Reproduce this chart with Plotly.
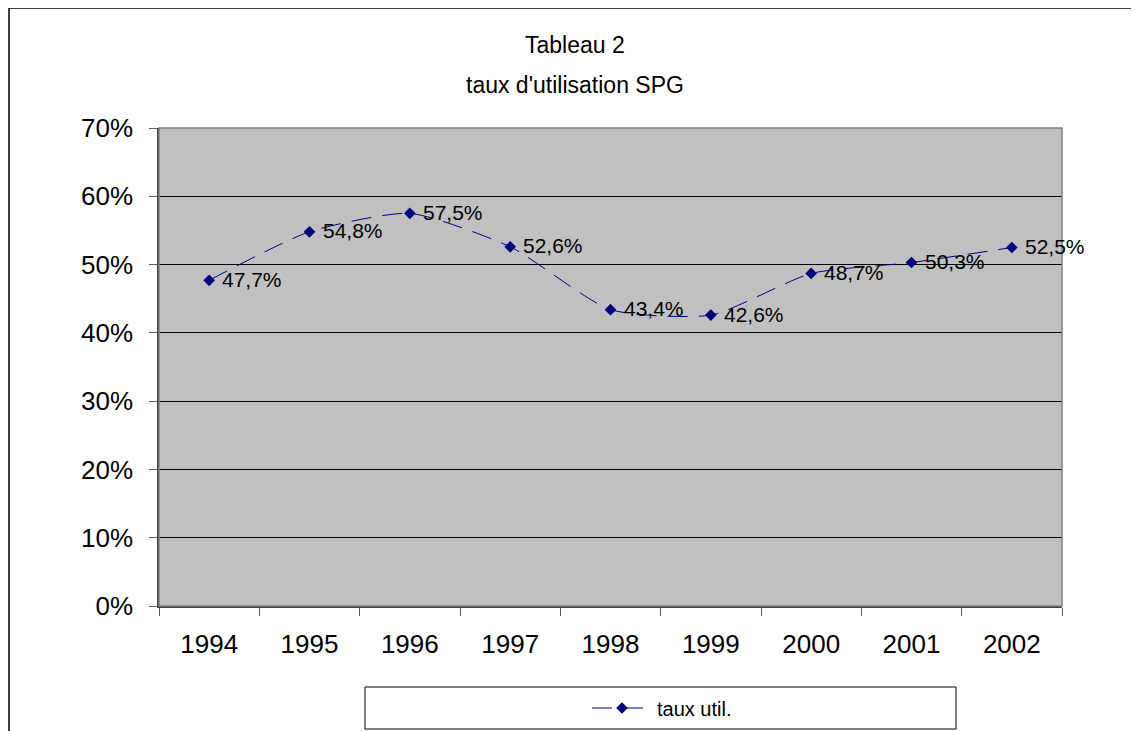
import plotly.graph_objects as go

years = ["1994", "1995", "1996", "1997", "1998", "1999", "2000", "2001", "2002"]
taux = [0.477, 0.548, 0.575, 0.526, 0.434, 0.426, 0.487, 0.503, 0.525]
labels = ["47,7%", "54,8%", "57,5%", "52,6%", "43,4%", "42,6%", "48,7%", "50,3%", "52,5%"]
y_ticks = [0, 0.1, 0.2, 0.3, 0.4, 0.5, 0.6, 0.7]
y_tick_text = ["0%", "10%", "20%", "30%", "40%", "50%", "60%", "70%"]

FONT = "Liberation Sans, Arial, sans-serif"
NAVY = "#000080"
OFF = 8  # page body margin

L, R, T, B = 159 - OFF, 1062 - OFF, 128 - OFF, 606 - OFF
W, H = 1139 - OFF, 731 - OFF
pw, ph = R - L, B - T


def px(x):
    return (x - OFF - L) / pw


def py(y):
    return (B - (y - OFF)) / ph


fig = go.Figure()
fig.add_trace(go.Scatter(
    x=years, y=taux, mode="lines+markers",
    name="taux util.",
    line=dict(color=NAVY, width=1, dash="20px,11px", shape="spline", smoothing=0.6),
    marker=dict(symbol="diamond", size=9, color=NAVY),
))

# data labels, positioned by category index on the category axis
annotations = [
    dict(x=i, y=v, xref="x", yref="y", text=t, showarrow=False, xanchor="left",
         yanchor="middle", xshift=11, yshift=1,
         font=dict(family=FONT, size=21, color="black"))
    for i, (v, t) in enumerate(zip(taux, labels))
]
annotations += [
    dict(x=px(575), y=py(45), xref="paper", yref="paper", text="Tableau 2", showarrow=False,
         xanchor="center", yanchor="middle", font=dict(family=FONT, size=23, color="black")),
    dict(x=px(575), y=py(85), xref="paper", yref="paper", text="taux d'utilisation SPG",
         showarrow=False, xanchor="center", yanchor="middle",
         font=dict(family=FONT, size=23, color="black")),
]

shapes = [
    dict(type="rect", xref="paper", yref="paper", x0=px(9), x1=px(1132), y0=py(745), y1=py(8),
         line=dict(color="black", width=1.5), fillcolor="rgba(0,0,0,0)", layer="below"),
    dict(type="rect", xref="paper", yref="paper", x0=0, x1=1, y0=0, y1=1,
         line=dict(color="#808080", width=1.5), fillcolor="rgba(0,0,0,0)"),
    dict(type="rect", xref="paper", yref="paper", x0=px(365), x1=px(956), y0=py(729), y1=py(687),
         line=dict(color="black", width=1), fillcolor="white", layer="below"),
]

fig.update_layout(
    width=W, height=H,
    margin=dict(l=L, r=W - R, t=T, b=H - B, autoexpand=False),
    paper_bgcolor="white", plot_bgcolor="#C0C0C0",
    font=dict(family=FONT, color="black"),
    shapes=shapes,
    annotations=annotations,
    showlegend=True,
    legend=dict(x=px(587), xanchor="left", y=py(708), yanchor="middle", itemwidth=60,
                bgcolor="rgba(0,0,0,0)", borderwidth=0,
                font=dict(family=FONT, size=20, color="black")),
    xaxis=dict(type="category", tickson="boundaries", ticks="outside", ticklen=8,
               tickcolor="#606060", showline=True, linecolor="#404040", linewidth=1.5,
               showgrid=False, tickfont=dict(family=FONT, size=26, color="black"),
               ticklabelstandoff=14, range=[-0.5, 8.5], fixedrange=True),
    yaxis=dict(range=[0, 0.7], tickvals=y_ticks, ticktext=y_tick_text, ticks="outside",
               ticklen=8, tickcolor="#606060", showline=True, linecolor="#404040", linewidth=1.5,
               showgrid=True, gridcolor="black", gridwidth=1, zeroline=False,
               ticklabelstandoff=11,
               tickfont=dict(family=FONT, size=26, color="black"), fixedrange=True),
)

fig.write_html("out.html")
